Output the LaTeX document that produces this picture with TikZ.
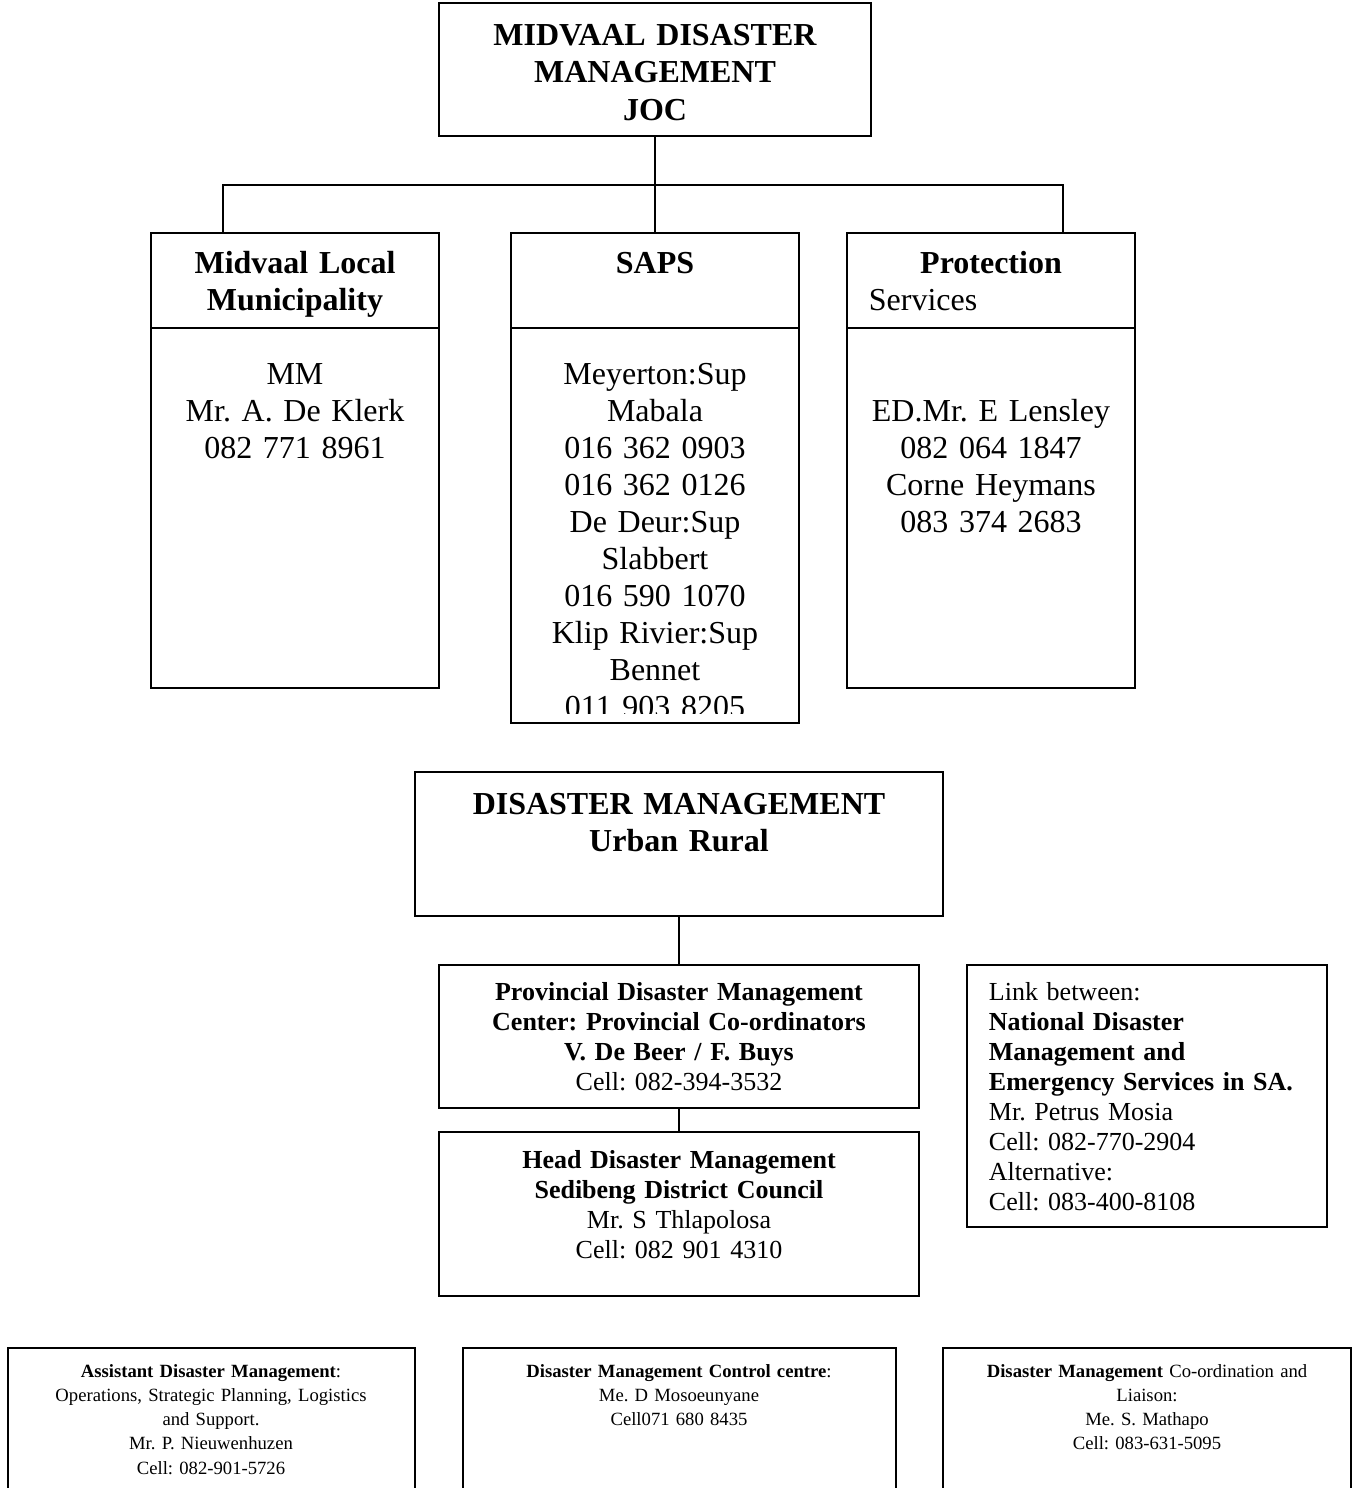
\documentclass[tikz,border=0pt]{standalone}
\usepackage{fontspec}
\setmainfont{Liberation Serif}
\frenchspacing
\begin{document}
\begin{tikzpicture}[x=0.75pt,y=-0.75pt,line width=1.4pt,
	box/.style={draw,anchor=north west,inner sep=0pt,outer sep=0pt},
	wh/.style 2 args={minimum width=#1*0.75pt,minimum height=#2*0.75pt},
	txt/.style={anchor=base,inner sep=0pt,align=center,text width=#1*0.75pt},
	ltxt/.style={anchor=base west,inner sep=0pt,align=left,text width=#1*0.75pt},
	big/.style={font=\fontsize{24}{27.75}\selectfont},
	bigb/.style={font=\fontsize{24}{27.75}\selectfont\bfseries},
	mid/.style={font=\fontsize{19.5}{22.6}\selectfont},
	small/.style={font=\fontsize{14}{18.2}\selectfont}]

	\clip (0,0) rectangle (1360,1488);

	% top: JOC and the three services
	\node[box,wh={432}{133}] (joc) at (439,3) {};
	\node[txt=432,bigb] (joctext) at (655,46) {MIDVAAL DISASTER\\MANAGEMENT\\JOC};

	\node[box,wh={288}{95}] (mlmhead) at (151,233) {};
	\node[box,wh={288}{360}] (mlmbody) at (151,328) {};
	\node[txt=288,bigb] (mlmtitle) at (295,273) {Midvaal Local\\Municipality};
	\node[txt=288,big] (mlmtext) at (295,384) {MM\\Mr. A. De Klerk\\082 771 8961};

	\node[box,wh={288}{95}] (sapshead) at (511,233) {};
	\node[box,wh={288}{395}] (sapsbody) at (511,328) {};
	\node[txt=288,bigb] (sapstitle) at (655,273) {SAPS};
	\begin{scope}
		\clip (511,328) rectangle (799,713);
		\node[txt=288,big] (sapstext) at (655,384) {Meyerton:Sup\\Mabala\\016 362 0903\\016 362 0126\\De Deur:Sup\\Slabbert\\016 590 1070\\Klip Rivier:Sup\\Bennet\\011 903 8205};
	\end{scope}

	\node[box,wh={288}{95}] (prothead) at (847,233) {};
	\node[box,wh={288}{360}] (protbody) at (847,328) {};
	\node[txt=288,bigb] (prottitle) at (991,273) {Protection};
	\node[ltxt=260,big] (protsub) at (868,310) {Services};
	\node[txt=288,big] (prottext) at (991,421) {ED.Mr. E Lensley\\082 064 1847\\Corne Heymans\\083 374 2683};

	\coordinate (busl) at (223,185);
	\coordinate (busr) at (1063,185);
	\draw (joc.south) -- (sapshead.north);
	\draw (busl |- mlmhead.north) -- (busl) -- (busr) -- (busr |- prothead.north);

	% middle: disaster management chain
	\node[box,wh={528}{144}] (dm) at (415,772) {};
	\node[txt=528,bigb] (dmtext) at (679,814) {DISASTER MANAGEMENT\\Urban Rural};

	\node[box,wh={480}{143}] (prov) at (439,965) {};
	\node[txt=480,mid] (provtext) at (679,1000) {\textbf{Provincial Disaster Management}\\\textbf{Center: Provincial Co-ordinators}\\\textbf{V. De Beer / F. Buys}\\Cell: 082-394-3532};

	\node[box,wh={480}{164}] (head) at (439,1132) {};
	\node[txt=480,mid] (headtext) at (679,1168) {\textbf{Head Disaster Management}\\\textbf{Sedibeng District Council}\\Mr. S Thlapolosa\\Cell: 082 901 4310};

	\draw (dm.south) -- (prov.north);
	\draw (prov.south) -- (head.north);

	\node[box,wh={360}{262}] (link) at (967,965) {};
	\node[ltxt=335,mid] (linktext) at (988,1000) {Link between:\\\textbf{National Disaster}\\\textbf{Management and}\\\textbf{Emergency Services in SA.}\\Mr. Petrus Mosia\\Cell: 082-770-2904\\Alternative:\\Cell: 083-400-8108};

	% bottom row
	\node[box,wh={407}{170}] (asst) at (8,1348) {};
	\node[txt=407,small] (assttext) at (211,1377) {\textbf{Assistant Disaster Management}:\\Operations, Strategic Planning, Logistics\\and Support.\\Mr. P. Nieuwenhuzen\\Cell: 082-901-5726};

	\node[box,wh={433}{170}] (ctrl) at (463,1348) {};
	\node[txt=433,small] (ctrltext) at (679,1377) {\textbf{Disaster Management Control centre}:\\Me. D Mosoeunyane\\Cell071 680 8435};

	\node[box,wh={408}{170}] (liaison) at (943,1348) {};
	\node[txt=408,small] (liaisontext) at (1147,1377) {\textbf{Disaster Management} Co-ordination and\\Liaison:\\Me. S. Mathapo\\Cell: 083-631-5095};

\end{tikzpicture}
\end{document}
